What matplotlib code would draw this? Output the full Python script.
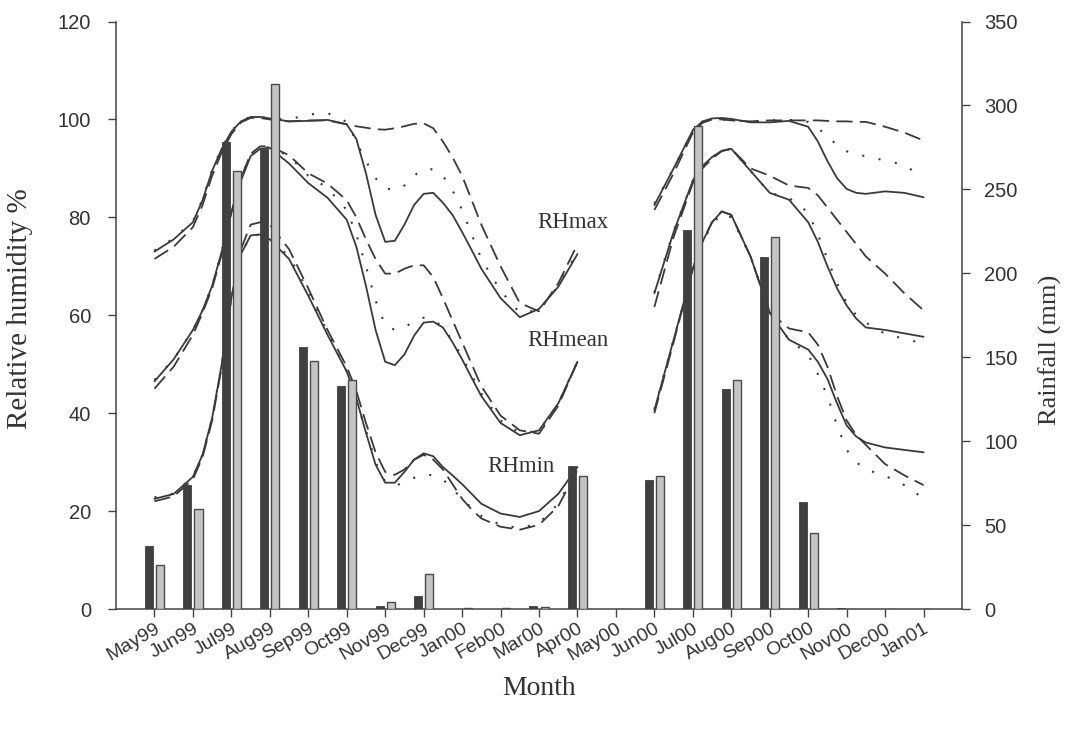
import matplotlib
matplotlib.use("Agg")
import matplotlib.pyplot as plt
import numpy as np

# ---------------- data ----------------
months = ["May99", "Jun99", "Jul99", "Aug99", "Sep99", "Oct99", "Nov99", "Dec99",
          "Jan00", "Feb00", "Mar00", "Apr00", "May00", "Jun00", "Jul00", "Aug00",
          "Sep00", "Oct00", "Nov00", "Dec00", "Jan01"]

# monthly rainfall (mm), two series
rain_dark = [37.6, 73.7, 278.5, 274.0, 156.0, 133.0, 1.5, 8.0, 0.0, 0.0, 1.5, 85.0,
             0.0, 77.0, 226.0, 131.0, 209.5, 63.8, 0.5, 0.0, 0.0]
rain_light = [26.1, 59.4, 260.8, 313.0, 147.5, 136.5, 4.0, 20.7, 0.8, 0.5, 1.0, 79.0,
              0.0, 79.4, 287.6, 136.5, 221.6, 45.3, 0.0, 0.0, 0.0]

# relative humidity curves (month index positions where values were read)
t1 = [0, 0.5, 1, 1.25, 1.5, 1.75, 2, 2.25, 2.5, 2.75, 3, 3.5, 4, 4.5, 5, 5.25, 5.5, 5.75,
      6, 6.25, 6.5, 6.75, 7, 7.25, 7.5, 7.75, 8, 8.25, 8.5, 9, 9.5, 10, 10.5, 11]
t2 = [13, 13.5, 14, 14.25, 14.5, 14.75, 15, 15.5, 16, 16.5, 17, 17.25, 17.5, 17.75,
      18, 18.25, 18.5, 19, 19.5, 20]

rhmax_solid_1 = [73.0, 75.5, 79.0, 83.5, 89.5, 94.0, 97.5, 99.6, 100.5, 100.5, 100.2, 99.6,
                 99.7, 99.9, 99.0, 96.0, 89.0, 80.5, 75.0, 75.2, 78.5, 82.5, 84.8, 85.0,
                 83.0, 80.5, 77.0, 73.3, 69.5, 63.5, 59.6, 61.3, 65.8, 72.5]
rhmax_dash_1 = [71.5, 74.0, 78.0, 82.5, 88.5, 93.3, 97.0, 99.4, 100.3, 100.3, 100.0, 99.6,
                99.8, 99.8, 99.0, 98.6, 98.3, 98.0, 97.9, 98.2, 98.6, 99.1, 99.2, 98.2,
                95.5, 92.3, 88.5, 83.5, 78.5, 70.0, 62.5, 60.8, 66.5, 74.5]
rhmax_dot_1 = [73.2, 75.7, 79.2, 83.7, 89.7, 94.2, 97.6, 99.7, 100.5, 100.5, 100.2, 100.0,
               101.0, 101.3, 99.5, 95.5, 91.5, 88.0, 86.0, 85.5, 86.5, 88.5, 89.9, 89.8,
               88.5, 85.5, 81.5, 76.5, 71.5, 65.0, 60.5, 61.0, 66.0, 73.0]

rhmean_solid_1 = [46.5, 51.0, 57.0, 61.0, 66.0, 73.0, 81.0, 87.5, 92.5, 94.0, 94.2, 91.0,
                  87.0, 84.0, 79.5, 74.0, 66.0, 57.0, 50.5, 49.8, 52.0, 55.8, 58.5, 58.7,
                  57.5, 54.5, 51.0, 47.2, 43.5, 38.0, 35.5, 36.5, 42.0, 50.5]
rhmean_dash_1 = [45.0, 49.5, 56.0, 60.5, 65.5, 72.5, 81.0, 88.0, 93.0, 94.5, 94.5, 92.7,
                 89.0, 86.9, 83.5, 80.0, 75.5, 71.5, 68.5, 68.5, 69.5, 70.2, 70.2, 67.8,
                 63.5, 59.0, 54.5, 50.0, 45.5, 39.5, 36.5, 35.8, 41.5, 50.5]
rhmean_dot_1 = [46.8, 51.0, 57.0, 61.0, 66.0, 73.2, 81.5, 88.0, 92.8, 94.3, 94.3, 92.5,
                88.5, 86.0, 81.5, 76.5, 70.0, 63.0, 58.0, 57.0, 57.5, 58.8, 59.5, 59.2,
                57.5, 54.8, 51.5, 47.8, 44.0, 38.5, 36.0, 36.3, 42.0, 50.5]

rhmin_solid_1 = [22.5, 23.5, 27.0, 31.5, 39.0, 50.0, 63.5, 72.5, 76.3, 76.5, 75.5, 71.5,
                 64.0, 56.0, 48.5, 43.0, 36.0, 29.5, 25.8, 25.8, 28.0, 30.5, 31.8, 31.2,
                 29.0, 27.3, 25.5, 23.5, 21.5, 19.5, 18.8, 20.0, 23.5, 29.0]
rhmin_dash_1 = [22.0, 23.0, 26.5, 31.0, 38.5, 49.5, 63.5, 73.5, 78.5, 79.0, 78.5, 73.5,
                65.5, 57.0, 49.5, 44.5, 38.0, 32.0, 28.0, 27.4, 28.5, 30.5, 31.5, 30.5,
                28.5, 25.5, 22.5, 20.3, 18.5, 16.8, 16.2, 17.2, 21.0, 28.4]
rhmin_dot_1 = [22.8, 23.6, 27.0, 31.5, 39.0, 50.0, 63.5, 72.5, 76.2, 76.5, 75.7, 72.0,
               65.0, 56.5, 48.5, 42.5, 36.5, 30.0, 26.0, 25.2, 25.8, 26.8, 27.5, 27.3,
               26.5, 24.5, 22.5, 20.6, 19.0, 17.2, 16.5, 17.5, 21.5, 28.6]

rhmax_solid_2 = [82.5, 90.0, 97.8, 99.6, 100.2, 100.3, 100.1, 99.4, 99.4, 99.7, 98.5, 95.5,
                 91.5, 88.0, 85.8, 85.0, 84.8, 85.3, 85.0, 84.1]
rhmax_dash_2 = [81.5, 89.0, 97.3, 99.3, 100.0, 100.0, 99.8, 99.6, 99.8, 99.8, 99.8, 99.8,
                99.7, 99.6, 99.6, 99.5, 99.5, 98.5, 97.3, 95.7]
rhmax_dot_2 = [82.8, 90.0, 97.8, 99.5, 100.0, 100.0, 99.8, 99.6, 99.8, 99.9, 99.5, 98.3,
               96.5, 94.8, 93.5, 92.8, 92.5, 91.6, 90.7, 88.0]

rhmean_solid_2 = [64.5, 77.0, 87.5, 90.5, 92.3, 93.6, 94.0, 89.5, 85.0, 83.6, 79.0, 75.0,
                  70.0, 65.5, 62.0, 59.3, 57.5, 57.0, 56.3, 55.6]
rhmean_dash_2 = [61.7, 76.0, 87.0, 90.0, 92.0, 93.5, 94.0, 90.0, 88.5, 86.5, 86.0, 84.5,
                 82.0, 79.5, 77.0, 74.5, 72.0, 68.5, 64.5, 61.0]
rhmean_dot_2 = [64.7, 77.2, 87.5, 90.5, 92.3, 93.6, 94.0, 89.5, 85.0, 84.0, 81.0, 76.5,
                71.5, 66.5, 62.5, 60.0, 58.5, 56.2, 55.2, 54.2]

rhmin_solid_2 = [40.6, 55.0, 69.5, 75.0, 79.0, 81.2, 80.5, 72.0, 60.5, 55.0, 53.0, 50.5,
                 47.0, 42.0, 37.5, 35.2, 34.0, 33.0, 32.5, 32.0]
rhmin_dash_2 = [40.0, 54.5, 69.5, 75.0, 79.0, 81.2, 80.5, 72.0, 60.5, 57.3, 56.5, 54.0,
                49.5, 43.5, 38.5, 35.5, 33.5, 29.6, 27.3, 25.3]
rhmin_dot_2 = [40.8, 55.0, 69.5, 74.8, 78.5, 80.8, 80.0, 72.0, 60.5, 55.0, 52.0, 48.0,
               43.5, 37.5, 32.5, 30.0, 28.5, 27.2, 25.3, 22.6]

curve_labels = ["RHmax", "RHmean", "RHmin"]

# ---------------- style ----------------
line_col = "#3a3a3a"
text_col = "#333333"
dark_col = "#404040"
light_col = "#c4c4c4"
sans = ["Liberation Sans", "DejaVu Sans"]
serif = ["Liberation Serif", "DejaVu Serif"]

plt.rcParams["font.family"] = sans

fig = plt.figure(figsize=(10.79, 7.29), dpi=100)
ax = fig.add_axes([0.1075, 0.1646, 0.7841, 0.8059])
ax2 = ax.twinx()

styles = {
    "solid": dict(linestyle="-", linewidth=1.3),
    "dash": dict(linestyle=(0, (9, 4)), linewidth=1.3),
    "dot": dict(linestyle=(0, (1, 7)), linewidth=1.5),
}

series = [
    (t1, rhmax_solid_1, "solid"), (t1, rhmax_dash_1, "dash"), (t1, rhmax_dot_1, "dot"),
    (t1, rhmean_solid_1, "solid"), (t1, rhmean_dash_1, "dash"), (t1, rhmean_dot_1, "dot"),
    (t1, rhmin_solid_1, "solid"), (t1, rhmin_dash_1, "dash"), (t1, rhmin_dot_1, "dot"),
    (t2, rhmax_solid_2, "solid"), (t2, rhmax_dash_2, "dash"), (t2, rhmax_dot_2, "dot"),
    (t2, rhmean_solid_2, "solid"), (t2, rhmean_dash_2, "dash"), (t2, rhmean_dot_2, "dot"),
    (t2, rhmin_solid_2, "solid"), (t2, rhmin_dash_2, "dash"), (t2, rhmin_dot_2, "dot"),
]
for tx, vals, st in series:
    ax.plot(tx, vals, color=line_col, solid_capstyle="round", solid_joinstyle="round",
            **styles[st])

# curve labels
label_pos = [(10.89, 79.0), (10.76, 54.9), (9.53, 29.2)]
for lab, (lx, ly) in zip(curve_labels, label_pos):
    ax.text(lx, ly, lab, ha="center", va="center", fontsize=16.5,
            family=serif, color=text_col)

# bars on the rainfall axis
x = np.arange(len(months))
w = 0.21
ax2.bar(x - 0.145, rain_dark, width=w, color=dark_col, edgecolor=dark_col, linewidth=0.6)
ax2.bar(x + 0.145, rain_light, width=w, color=light_col, edgecolor="#4a4a4a", linewidth=1.0)

# axes settings
ax.set_xlim(-1, 21)
ax.set_ylim(0, 120)
ax2.set_ylim(0, 350)
ax.set_yticks(np.arange(0, 121, 20))
ax2.set_yticks(np.arange(0, 351, 50))
ax.set_xticks(x)
ax.set_xticklabels(months, rotation=30, ha="right", rotation_mode="anchor")

for a in (ax, ax2):
    a.spines["top"].set_visible(False)
    for s in a.spines.values():
        s.set_color("#444444")
        s.set_linewidth(1.1)
    a.tick_params(colors="#444444", labelcolor=text_col, labelsize=14.5,
                  length=6, width=1.0, direction="out")
ax.spines["right"].set_visible(False)
ax2.spines["left"].set_visible(False)
ax2.spines["bottom"].set_visible(False)
ax.tick_params(axis="y", pad=12)
ax2.tick_params(axis="y", pad=10)
ax.tick_params(axis="x", pad=2, labelsize=14)

fig.text(0.0185, 0.576, "Relative humidity %", rotation=90, ha="center", va="center",
         fontsize=21, family=serif, color=text_col)
fig.text(0.973, 0.52, "Rainfall (mm)", rotation=90, ha="center", va="center",
         fontsize=19, family=serif, color=text_col)
fig.text(0.5, 0.056, "Month", ha="center", va="center",
         fontsize=20, family=serif, color=text_col)

fig.savefig("out.png", dpi=100, facecolor="white")
